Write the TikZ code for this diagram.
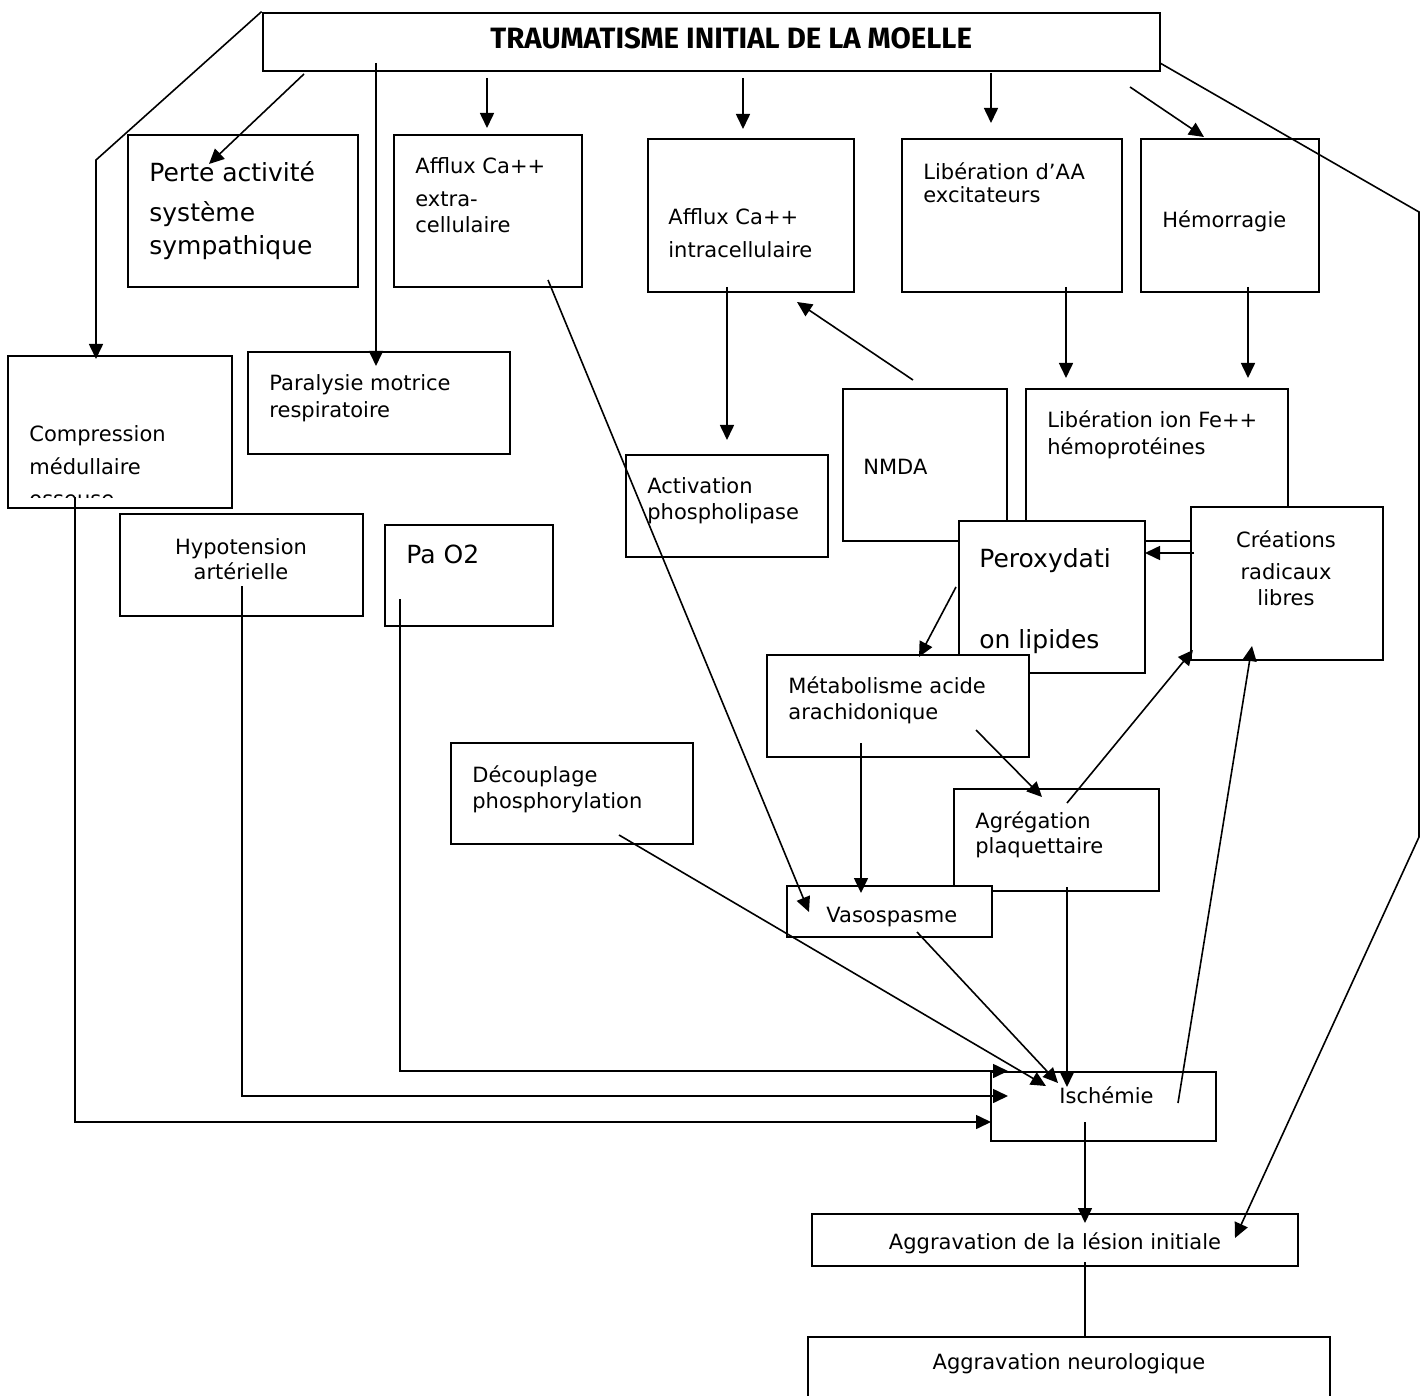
\documentclass[tikz,border=0pt]{standalone}
\usepackage{fontspec}
\setmainfont{DejaVu Sans}
\newfontfamily\titlefont{Fira Sans}
\usetikzlibrary{arrows.meta,fit}
\tikzset{
  box/.style={draw, fill=white, line width=1pt, inner sep=0pt},
  txt/.style={anchor=base west, inner sep=0pt, font=\fontsize{10.5}{12}\selectfont},
  txtc/.style={anchor=base, inner sep=0pt, font=\fontsize{10.5}{12}\selectfont},
  bigtxt/.style={anchor=base west, inner sep=0pt, font=\fontsize{12.5}{15}\selectfont},
  arr/.style={-{Triangle[length=7.5pt,width=7pt]}, line width=0.8pt},
  ln/.style={line width=0.8pt}
}
\begin{document}
\begin{tikzpicture}[x=0.5pt,y=-0.5pt]
\clip (0,0) rectangle (1420,1396);
\fill[white] (0,0) rectangle (1420,1396);
% ---- boxes and texts
\node[box, line width=1.4pt, fit={(263,13) (1160,71)}] (title) {};
\node[anchor=base west, inner sep=0pt, font=\titlefont\bfseries\fontsize{14.7}{17}\selectfont] (titletxt) at (490,49) {TRAUMATISME INITIAL DE LA MOELLE};

\node[box, fit={(128,135) (358,287)}] (perte) {};
\node[bigtxt] (perte1) at (149,182) {Perte activité};
\node[bigtxt] (perte2) at (149,222) {système};
\node[bigtxt] (perte3) at (149,255) {sympathique};

\node[box, fit={(394,135) (582,287)}] (afx) {};
\node[txt] (afx1) at (415,174) {Afflux Ca++};
\node[txt] (afx2) at (415,207) {extra-};
\node[txt] (afx3) at (415,233) {cellulaire};

\node[box, fit={(648,139) (854,292)}] (afi) {};
\node[txt] (afi1) at (668,225) {Afflux Ca++};
\node[txt] (afi2) at (668,258) {intracellulaire};

\node[box, fit={(902,139) (1122,292)}] (libaa) {};
\node[txt] (libaa1) at (923,180) {Libération d’AA};
\node[txt] (libaa2) at (923,203) {excitateurs};

\node[box, fit={(1141,139) (1319,292)}] (hemo) {};
\node[txt] (hemo1) at (1162,228) {Hémorragie};

\node[box, fit={(8,356) (232,508)}] (comp) {};
\node[txt] (comp1) at (29,442) {Compression};
\node[txt] (comp2) at (29,474) {médullaire};
\begin{scope}
\clip (8,356) rectangle (232,497);
\node[txt] (comp3) at (29,506) {osseuse};
\end{scope}

\node[box, fit={(248,352) (510,454)}] (para) {};
\node[txt] (para1) at (269,391) {Paralysie motrice};
\node[txt] (para2) at (269,417) {respiratoire};

\node[box, fit={(120,514) (363,616)}] (hypo) {};
\node[txtc] (hypo1) at (241,554) {Hypotension};
\node[txtc] (hypo2) at (241,579) {artérielle};

\node[box, fit={(385,525) (553,626)}] (pao) {};
\node[bigtxt] (pao1) at (406,563) {Pa O2};

\node[box, fit={(626,455) (828,557)}] (actp) {};
\node[txt] (actp1) at (647,494) {Activation};
\node[txt] (actp2) at (647,519) {phospholipase};

\node[box, fit={(843,389) (1007,541)}] (nmda) {};
\node[txt] (nmda1) at (863,474) {NMDA};

\node[box, fit={(1026,389) (1288,541)}] (fe) {};
\node[txt] (fe1) at (1047,428) {Libération ion Fe++};
\node[txt] (fe2) at (1047,454) {hémoprotéines};

\node[box, fit={(959,521) (1145,673)}] (perox) {};
\node[bigtxt] (perox1) at (979,567) {Peroxydati};
\node[bigtxt] (perox2) at (979,648) {on lipides};

\node[box, fit={(1191,507) (1383,660)}] (crea) {};
\node[txtc] (crea1) at (1286,547) {Créations};
\node[txtc] (crea2) at (1286,579) {radicaux};
\node[txtc] (crea3) at (1286,605) {libres};

\node[box, fit={(767,655) (1029,757)}] (meta) {};
\node[txt] (meta1) at (788,693) {Métabolisme acide};
\node[txt] (meta2) at (788,719) {arachidonique};

\node[box, fit={(451,743) (693,844)}] (decoup) {};
\node[txt] (decoup1) at (472,782) {Découplage};
\node[txt] (decoup2) at (472,808) {phosphorylation};

\node[box, fit={(954,789) (1159,891)}] (agreg) {};
\node[txt] (agreg1) at (975,828) {Agrégation};
\node[txt] (agreg2) at (975,853) {plaquettaire};

\node[box, fit={(787,886) (992,937)}] (vaso) {};
\node[txt] (vaso1) at (826,922) {Vasospasme};

\node[box, fit={(991,1072) (1216,1141)}] (isch) {};
\node[txt] (isch1) at (1059,1103) {Ischémie};

\node[box, fit={(812,1214) (1298,1266)}] (lesion) {};
\node[txtc] (lesion1) at (1055,1249) {Aggravation de la lésion initiale};

\node[box, fit={(808,1337) (1330,1430)}] (neuro) {};
\node[txtc] (neuro1) at (1069,1369) {Aggravation neurologique};

% ---- connector end points
\coordinate (c1a) at (96,160);
\coordinate (c1b) at (96,359);
\coordinate (c2a) at (304,74);   \coordinate (c2b) at (209,164);
\coordinate (c3a) at (376,63);   \coordinate (c3b) at (376,366);
\coordinate (c4a) at (487,78);   \coordinate (c4b) at (487,128);
\coordinate (c5a) at (743,78);   \coordinate (c5b) at (743,129);
\coordinate (c6a) at (991,73);   \coordinate (c6b) at (991,123);
\coordinate (c7a) at (1130,87);  \coordinate (c7b) at (1204,137);
\coordinate (c8a) at (1160,63);  \coordinate (c8b) at (1419,212);
\coordinate (c8c) at (1419,837); \coordinate (c8d) at (1235,1238);
\coordinate (c9a) at (548,280);  \coordinate (c9b) at (809,912);
\coordinate (c10a) at (727,287); \coordinate (c10b) at (727,440);
\coordinate (c11a) at (913,380); \coordinate (c11b) at (797,302);
\coordinate (c12a) at (1066,287);\coordinate (c12b) at (1066,378);
\coordinate (c13a) at (1248,287);\coordinate (c13b) at (1248,378);
\coordinate (c14a) at (1194,553);\coordinate (c14b) at (1145,553);
\coordinate (c15a) at (956,587); \coordinate (c15b) at (919,657);
\coordinate (c16a) at (861,743); \coordinate (c16b) at (861,893);
\coordinate (c17a) at (976,730); \coordinate (c17b) at (1042,797);
\coordinate (c18a) at (1067,803);\coordinate (c18b) at (1193,650);
\coordinate (c19a) at (1178,1103);\coordinate (c19b) at (1252,646);
\coordinate (c20a) at (1067,887);\coordinate (c20b) at (1067,1087);
\coordinate (c21a) at (917,932); \coordinate (c21b) at (1058,1083);
\coordinate (c22a) at (619,835); \coordinate (c22b) at (1046,1086);
\coordinate (c23a) at (400,599); \coordinate (c23b) at (400,1071); \coordinate (c23c) at (1008,1071);
\coordinate (c24a) at (242,586); \coordinate (c24b) at (242,1096); \coordinate (c24c) at (1008,1096);
\coordinate (c25a) at (75,497);  \coordinate (c25b) at (75,1122);  \coordinate (c25c) at (991,1122);
\coordinate (c26a) at (1085,1122);\coordinate (c26b) at (1085,1223);
\coordinate (c27a) at (1085,1262);\coordinate (c27b) at (1085,1337);

% ---- connectors
\draw[arr] (title.north west) -- (c1a) -- (c1b);
\draw[arr] (c2a) -- (c2b);
\draw[arr] (c3a) -- (c3b);
\draw[arr] (c4a) -- (c4b);
\draw[arr] (c5a) -- (c5b);
\draw[arr] (c6a) -- (c6b);
\draw[arr] (c7a) -- (c7b);
\draw[arr] (c8a) -- (c8b) -- (c8c) -- (c8d);
\draw[arr] (c9a) -- (c9b);
\draw[arr] (c10a) -- (c10b);
\draw[arr] (c11a) -- (c11b);
\draw[arr] (c12a) -- (c12b);
\draw[arr] (c13a) -- (c13b);
\draw[arr] (c14a) -- (c14b);
\draw[arr] (c15a) -- (c15b);
\draw[arr] (c16a) -- (c16b);
\draw[arr] (c17a) -- (c17b);
\draw[arr] (c18a) -- (c18b);
\draw[arr] (c19a) -- (c19b);
\draw[arr] (c20a) -- (c20b);
\draw[arr] (c21a) -- (c21b);
\draw[arr] (c22a) -- (c22b);
\draw[arr] (c23a) -- (c23b) -- (c23c);
\draw[arr] (c24a) -- (c24b) -- (c24c);
\draw[arr] (c25a) -- (c25b) -- (c25c);
\draw[arr] (c26a) -- (c26b);
\draw[ln] (c27a) -- (c27b);
\end{tikzpicture}
\end{document}
